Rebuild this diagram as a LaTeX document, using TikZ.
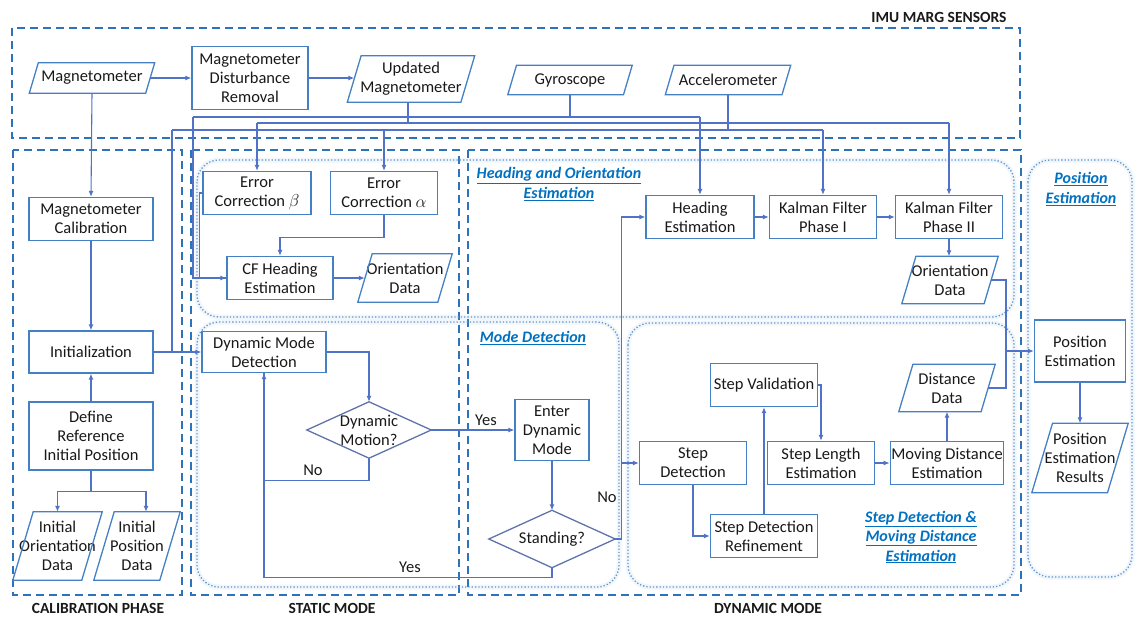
\documentclass[tikz,border=0pt]{standalone}
\usepackage{fontspec}
\setmainfont{Carlito}
\usetikzlibrary{arrows.meta}
\definecolor{boxc}{RGB}{68,128,196}
\definecolor{linec}{RGB}{80,115,200}
\definecolor{diac}{RGB}{95,115,170}
\definecolor{dashc}{RGB}{45,115,185}
\definecolor{dotc}{RGB}{95,150,210}
\definecolor{labc}{RGB}{0,112,192}
\definecolor{txt}{RGB}{25,25,25}
\newcommand\nf{\fontsize{16.5}{19}\selectfont}
\newcommand\paral[6]{%
  \node[ptext, minimum width=#4pt, minimum height=#5pt] (#1) at (#2,#3) {#6};
  \pgfmathsetmacro\psl{0.3*#5}
  \draw[pbord] (#1.south west) -- ([xshift=-\psl pt]#1.south east) -- (#1.north east) -- ([xshift=\psl pt]#1.north west) -- cycle;}
\newcommand\dmnd[6]{%
  \node[ptext, minimum width=#4pt, minimum height=#5pt] (#1) at (#2,#3) {#6};
  \draw[dbord] (#1.west) -- (#1.north) -- (#1.east) -- (#1.south) -- cycle;}
\begin{document}
\begin{tikzpicture}[x=1pt,y=-1pt,
  box/.style={draw=boxc, line width=1.3pt, fill=white, align=center, inner sep=1pt, font=\nf, text=txt},
  ptext/.style={align=center, inner sep=0pt, font=\nf, text=txt},
  pbord/.style={draw=boxc, line width=1.3pt},
  dbord/.style={draw=diac, line width=1.3pt},
  conn/.style={draw=linec, line width=1.1pt},
  arr/.style={conn, -{Latex[length=6pt,width=5pt]}},
  dashbox/.style={draw=dashc, line width=1.8pt, dash pattern=on 8pt off 5pt},
  dotbox/.style={draw=dotc, line width=1.3pt, dotted, rounded corners=22pt},
  glow/.style={draw=dotc, opacity=0.09, line width=5pt, rounded corners=22pt},
  grp/.style={font=\bfseries\itshape\fontsize{16}{19.5}\selectfont, text=labc, align=center},
  captext/.style={font=\bfseries\fontsize{15.5}{18}\selectfont, text=txt},
  lbl/.style={font=\nf, text=txt}]
\useasboundingbox (0,0) rectangle (1135,618);

% containers
\draw[dashbox] (12,28) rectangle (1020,138);
\draw[dashbox] (13,150) rectangle (182,595);
\draw[dashbox] (191,150) rectangle (459,595);
\draw[dashbox] (468,150) rectangle (1021,595);

\draw[glow] (197,160) rectangle (1014,317);
\draw[glow] (197,322) rectangle (619,587);
\draw[glow] (628,323) rectangle (1014,587);
\draw[glow] (1028,160) rectangle (1132,577);
\draw[dotbox] (197,160) rectangle (1014,317);
\draw[dotbox] (197,322) rectangle (619,587);
\draw[dotbox] (628,323) rectangle (1014,587);
\draw[dotbox] (1028,160) rectangle (1132,577);

% labels
\node[captext] (timu) at (939,17) {IMU MARG SENSORS};
\node[captext] (tcal) at (98,608) {CALIBRATION PHASE};
\node[captext] (tsta) at (332,608) {STATIC MODE};
\node[captext] (tdyn) at (768,608) {DYNAMIC MODE};
\node[grp] (lho) at (559,184) {\underline{Heading and Orientation}\\\underline{Estimation}};
\node[grp] (lmd) at (533,338) {\underline{Mode Detection}};
\node[grp] (lsd) at (921,537) {\underline{Step Detection \&}\\\underline{Moving Distance}\\\underline{Estimation}};
\node[grp] (lpe) at (1081,189) {\underline{Position}\\\underline{Estimation}};

% sensors
\paral{mag}{92}{78}{125}{30}{Magnetometer}
\node[box, minimum width=116pt, minimum height=63pt] (mdr) at (250,78) {Magnetometer\\Disturbance\\Removal};
\paral{umag}{411}{79}{127}{46}{Updated\\Magnetometer}
\paral{gyro}{570}{80}{124}{29}{Gyroscope}
\paral{acc}{728}{80}{125}{29}{Accelerometer}

% calibration
\node[box, minimum width=124pt, minimum height=43pt] (mcal) at (91,219) {Magnetometer\\Calibration};
\node[box, minimum width=124pt, minimum height=42pt] (init) at (91,352) {Initialization};
\node[box, minimum width=124pt, minimum height=68pt] (defref) at (91,436) {Define\\Reference\\Initial Position};
\paral{iod}{57.5}{546}{89}{68}{Initial\\Orientation\\Data}
\paral{ipd}{137}{546}{86}{68}{Initial\\Position\\Data}

% static
\node[box, minimum width=108pt, minimum height=43pt] (ecb) at (257,193) {Error\\Correction $\beta$};
\node[box, minimum width=107pt, minimum height=43pt] (eca) at (384,193) {Error\\Correction $\alpha$};
\node[box, minimum width=106pt, minimum height=43pt] (cfh) at (280,278) {CF Heading\\Estimation};
\paral{od1}{405}{278}{94}{48}{Orientation\\Data}
\node[box, minimum width=124pt, minimum height=41pt] (dmd) at (264,352) {Dynamic Mode\\Detection};
\dmnd{dmot}{369}{430}{124}{56}{Dynamic\\Motion?}
\node[box, minimum width=74pt, minimum height=61pt] (edm) at (552,430) {Enter\\Dynamic\\Mode};
\dmnd{stand}{552}{539}{126}{57}{Standing?}

% dynamic
\node[box, minimum width=108pt, minimum height=43pt] (he) at (700,217) {Heading\\Estimation};
\node[box, minimum width=107pt, minimum height=43pt] (kf1) at (823,217) {Kalman Filter\\Phase I};
\node[box, minimum width=107pt, minimum height=43pt] (kf2) at (949,217) {Kalman Filter\\Phase II};
\paral{od2}{950}{280}{96}{47}{Orientation\\Data}
\node[box, minimum width=107pt, minimum height=43pt] (sv) at (764,385) {Step Validation};
\node[box, minimum width=107pt, minimum height=43pt] (sd) at (693,463) {Step\\Detection};
\node[box, minimum width=107pt, minimum height=43pt] (sle) at (821,463) {Step Length\\Estimation};
\node[box, minimum width=113pt, minimum height=43pt] (mde) at (947,463) {Moving Distance\\Estimation};
\paral{dd}{947}{388}{96}{47}{Distance\\Data}
\node[box, minimum width=107pt, minimum height=43pt] (sdr) at (764,536) {Step Detection\\Refinement};

% position
\node[box, minimum width=91pt, minimum height=62pt] (pe) at (1080,351) {Position\\Estimation};
\paral{per}{1080}{458}{96}{69}{Position\\Estimation\\Results}

% sensor connectors
\draw[arr] ([xshift=-4.5pt]mag.east) -- (mdr.west);
\draw[arr] (mdr.east) -- ([xshift=7pt]umag.west |- mdr.east);
\draw[arr] (mag.south) -- (mcal.north);

\coordinate (gL) at (193,117);
\coordinate (uL) at (0,123);
\coordinate (aL) at (172,130);
\draw[conn] (gyro.south) -- (gyro.south |- gL);
\draw[conn] (gL) -- (he.north |- gL);
\draw[arr] (he.north |- gL) -- (he.north);
\draw[arr] (gL) |- (cfh.west);

\draw[conn] ([xshift=-3pt]umag.south) -- ([xshift=-3pt]umag.south |- uL);
\draw[conn] (ecb.north |- uL) -- (kf2.north |- uL);
\draw[arr] (ecb.north |- uL) -- (ecb.north);
\draw[arr] (kf2.north |- uL) -- (kf2.north);

\draw[conn] (acc.south) -- (acc.south |- aL);
\draw[conn] (aL) -- (kf1.north |- aL);
\draw[arr] (eca.north |- aL) -- (eca.north);
\draw[arr] (kf1.north |- aL) -- (kf1.north);
\draw[conn] (aL) -- (aL |- init.east);

% calibration connectors
\draw[arr] (mcal.south) -- (init.north);
\draw[arr] (defref.north) -- (init.south);
\draw[arr] (defref.south) -- ++(0,21) -| (iod.north);
\draw[arr] (defref.south) -- ++(0,21) -| ([xshift=9pt]ipd.north);
\draw[arr] (init.east) -- (dmd.west);

% static connectors
\draw[conn] (ecb.west) -- ++(-2.5,0) |- (cfh.west);
\draw[arr] (eca.south) -- ++(0,22) -| (cfh.north);
\draw[arr] (cfh.east) -- ([xshift=7pt]od1.west);
\draw[arr] (dmd.east) -| (dmot.north);
\draw[arr] (dmot.south) -- ++(0,22) -| (dmd.south);
\draw[arr] (dmot.east) -- (edm.west);
\draw[arr] (edm.south) -- (stand.north);
\draw[conn] (stand.south) -- ++(0,10) -| (dmd.south);
\draw[arr] (stand.east) -- ++(6,0) |- (he.west);
\draw[arr] (stand.east) -- ++(6,0) |- (sd.west);
\node[lbl] (tno1) at (313,470) {No};
\node[lbl] (tyes1) at (486,420) {Yes};
\node[lbl] (tyes2) at (410,567) {Yes};
\node[lbl] (tno2) at (607,497) {No};

% dynamic connectors
\draw[arr] (he.east) -- (kf1.west);
\draw[arr] (kf1.east) -- (kf2.west);
\draw[arr] (kf2.south) -- (kf2.south |- od2.north);
\coordinate (pj) at (1006,351);
\draw[conn] ([xshift=-7pt]od2.east) -| (pj);
\draw[conn] ([xshift=-7pt]dd.east) -| (pj);
\draw[arr] (pj) -- (pe.west);
\draw[arr] (pe.south) -- (pe.south |- per.north);
\draw[arr] (sd.south) |- (sdr.west);
\draw[arr] (sdr.north) -- (sv.south);
\draw[arr] (sv.east) -| (sle.north);
\draw[arr] (sle.east) -- (mde.west);
\draw[arr] (mde.north) -- (dd.south);
\end{tikzpicture}
\end{document}
